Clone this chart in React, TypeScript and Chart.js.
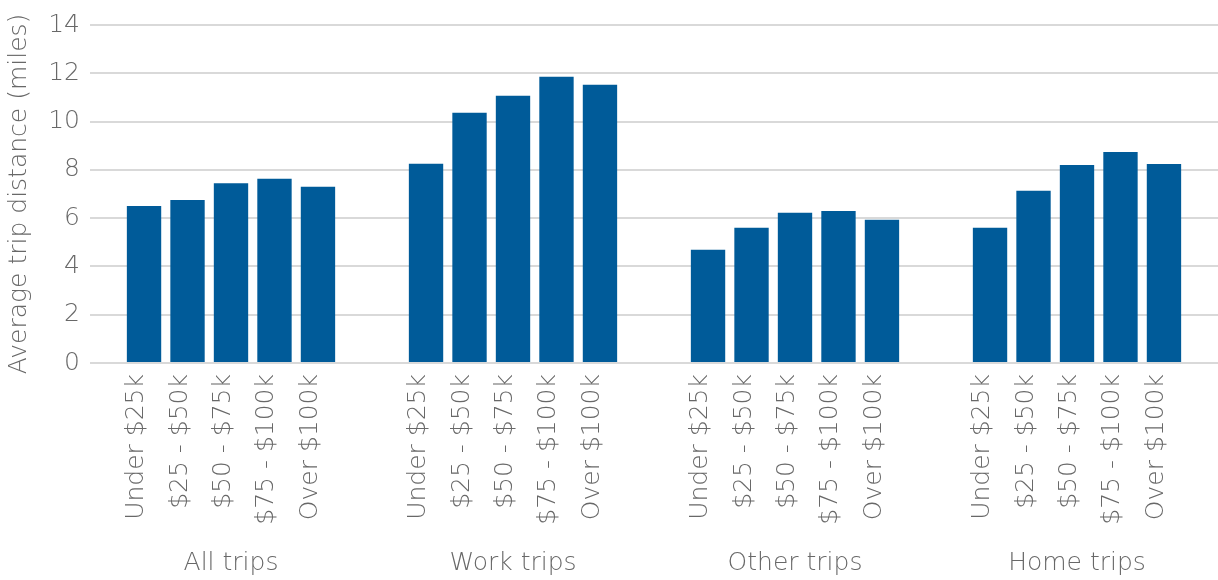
import React, { useEffect, useRef } from "react";
import { Chart, registerables } from "chart.js";

Chart.register(...registerables);

const tripCategories = ["All trips", "Work trips", "Other trips", "Home trips"];
const incomeLabels = ["Under $25k", "$25 - $50k", "$50 - $75k", "$75 - $100k", "Over $100k"];
const allTrips = [6.5, 6.75, 7.45, 7.63, 7.3];
const workTrips = [8.25, 10.37, 11.07, 11.86, 11.53];
const otherTrips = [4.69, 5.6, 6.22, 6.3, 5.93];
const homeTrips = [5.6, 7.13, 8.2, 8.74, 8.24];
const yTicks = [0, 2, 4, 6, 8, 10, 12, 14];

const BAR_COLOR = "#005B99";
const TEXT_COLOR = "#686868";
const GRID_COLOR = "#D9D9D9";
const FONT_FAMILY = "'DejaVu Sans', 'Open Sans', sans-serif";

const barLabelPlugin = {
  id: "barLabels",
  afterDraw(chart: any) {
    const ctx = chart.ctx;
    const bottom = chart.chartArea.bottom;
    ctx.save();
    ctx.font = `200 25px ${FONT_FAMILY}`;
    ctx.fillStyle = TEXT_COLOR;
    ctx.textAlign = "right";
    ctx.textBaseline = "alphabetic";
    chart.data.datasets.forEach((ds: any, i: number) => {
      const meta = chart.getDatasetMeta(i);
      meta.data.forEach((el: any) => {
        ctx.save();
        ctx.translate(el.x, bottom + 11);
        ctx.rotate(-Math.PI / 2);
        ctx.fillText(ds.label, 0, -1);
        ctx.restore();
      });
    });
    ctx.restore();
  },
};

export default function App() {
  const canvasRef = useRef<HTMLCanvasElement | null>(null);

  useEffect(() => {
    document.body.style.margin = "0";
    if (!canvasRef.current) return;
    const groups = [allTrips, workTrips, otherTrips, homeTrips];
    const datasets = incomeLabels.map((label, i) => ({
      label,
      data: groups.map((g) => g[i]),
      backgroundColor: BAR_COLOR,
      borderWidth: 0,
      categoryPercentage: 0.771,
      barPercentage: 0.79,
    }));
    const chart = new Chart(canvasRef.current, {
      type: "bar",
      data: { labels: tripCategories, datasets },
      options: {
        animation: false,
        responsive: true,
        maintainAspectRatio: false,
        layout: { padding: { top: 25, right: 0, bottom: 0, left: 0 } },
        plugins: { legend: { display: false }, tooltip: { enabled: false } },
        scales: {
          x: {
            grid: { display: false, drawTicks: false },
            border: { display: false },
            ticks: {
              color: TEXT_COLOR,
              font: { family: FONT_FAMILY, size: 25, weight: "200" as any },
              padding: 185,
              maxRotation: 0,
              minRotation: 0,
            },
            afterFit: (scale: any) => {
              scale.height = 217;
              scale.paddingLeft = 0;
              scale.paddingRight = 0;
            },
          },
          y: {
            min: 0,
            max: 14,
            afterBuildTicks: (scale: any) => {
              scale.ticks = yTicks.map((v) => ({ value: v }));
            },
            grid: { color: GRID_COLOR, lineWidth: 2, drawTicks: false },
            border: { display: false },
            ticks: {
              color: TEXT_COLOR,
              font: { family: FONT_FAMILY, size: 25, weight: "200" as any },
              padding: 10,
            },
            title: {
              display: true,
              text: "Average trip distance (miles)",
              color: TEXT_COLOR,
              font: { family: FONT_FAMILY, size: 25, weight: "200" as any },
              padding: { top: 4, bottom: 4 },
            },
            afterFit: (scale: any) => {
              scale.width = 90;
            },
          },
        },
      },
      plugins: [barLabelPlugin],
    });
    return () => chart.destroy();
  }, []);

  return (
    <div style={{ width: "1218px", height: "580px", position: "relative" }}>
      <canvas ref={canvasRef} />
    </div>
  );
}
